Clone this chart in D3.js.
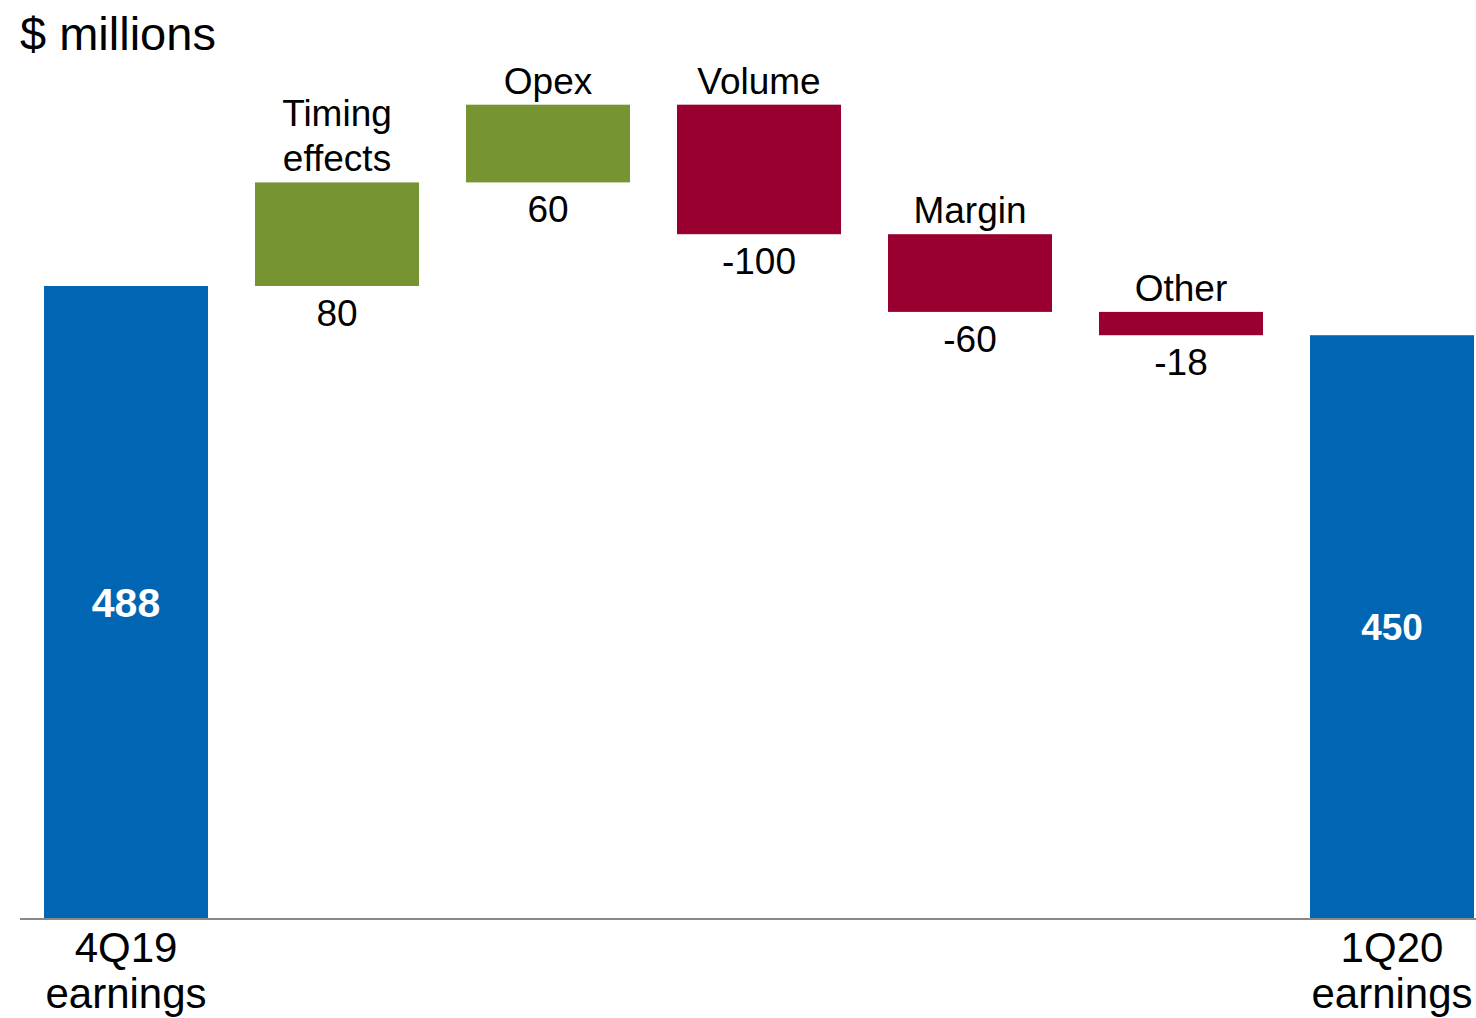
<!DOCTYPE html>
<html><head><meta charset="utf-8">
<script src="https://cdn.jsdelivr.net/npm/d3@7"></script>
<style>body{margin:0;background:#fff}svg{display:block;font-family:"Liberation Sans",Arial,sans-serif}</style>
</head><body><svg id="c" width="1476" height="1018"></svg>
<script>
const categories = ["4Q19 earnings","Timing effects","Opex","Volume","Margin","Other","1Q20 earnings"];
const labelLines = [["4Q19","earnings"],["Timing","effects"],["Opex"],["Volume"],["Margin"],["Other"],["1Q20","earnings"]];
const values = [488, 80, 60, -100, -60, -18, 450];
const kinds = ["total","delta","delta","delta","delta","delta","total"];
const valueLabels = ["488","80","60","-100","-60","-18","450"];

const svg = d3.select("#c");
const baseY = 918;
const x = d3.scaleBand().domain(categories).range([44, 1474]).paddingInner(0.2227).paddingOuter(0);
const y = d3.scaleLinear().domain([0, 488]).range([baseY, 286]);

let run = 0;
const bars = categories.map((c, i) => {
  let y0, y1;
  if (kinds[i] === "total") { y0 = 0; y1 = values[i]; run = values[i]; }
  else { y0 = run; y1 = run + values[i]; run = y1; }
  return {c, i, lo: Math.min(y0, y1), hi: Math.max(y0, y1), v: values[i], kind: kinds[i]};
});
const color = d => d.kind === "total" ? "#0066B3" : (d.v >= 0 ? "#779432" : "#990030");

svg.append("text").attr("x", 20).attr("y", 50).attr("font-size", 47).attr("fill", "#000").text("$ millions");

svg.selectAll("rect.bar").data(bars).enter().append("rect").attr("class", "bar")
  .attr("x", d => x(d.c)).attr("width", x.bandwidth())
  .attr("y", d => y(d.hi)).attr("height", d => y(d.lo) - y(d.hi))
  .attr("fill", color);

svg.append("line").attr("x1", 20).attr("x2", 1476).attr("y1", baseY + 1).attr("y2", baseY + 1)
  .attr("stroke", "#888").attr("stroke-width", 2);

bars.forEach(d => {
  const cx = x(d.c) + x.bandwidth() / 2;
  if (d.kind === "total") {
    const lines = labelLines[d.i];
    lines.forEach((t, k) => svg.append("text").attr("x", cx).attr("y", 962 + k * 46)
      .attr("text-anchor", "middle").attr("font-size", 42).attr("fill", "#000").text(t));
    svg.append("text").attr("x", cx).attr("y", (y(d.hi) + y(d.lo)) / 2)
      .attr("dy", "0.36em").attr("text-anchor", "middle").attr("font-weight", "bold")
      .attr("font-size", d.i === 0 ? 41 : 37).attr("fill", "#fff").text(valueLabels[d.i]);
  } else {
    const lines = labelLines[d.i];
    const top = y(d.hi);
    lines.forEach((t, k) => svg.append("text").attr("x", cx)
      .attr("y", top - 11 - (lines.length - 1 - k) * 45)
      .attr("text-anchor", "middle").attr("font-size", 37).attr("fill", "#000").text(t));
    svg.append("text").attr("x", cx).attr("y", y(d.lo) + 40)
      .attr("text-anchor", "middle").attr("font-size", 37).attr("fill", "#000").text(valueLabels[d.i]);
  }
});
</script></body></html>
